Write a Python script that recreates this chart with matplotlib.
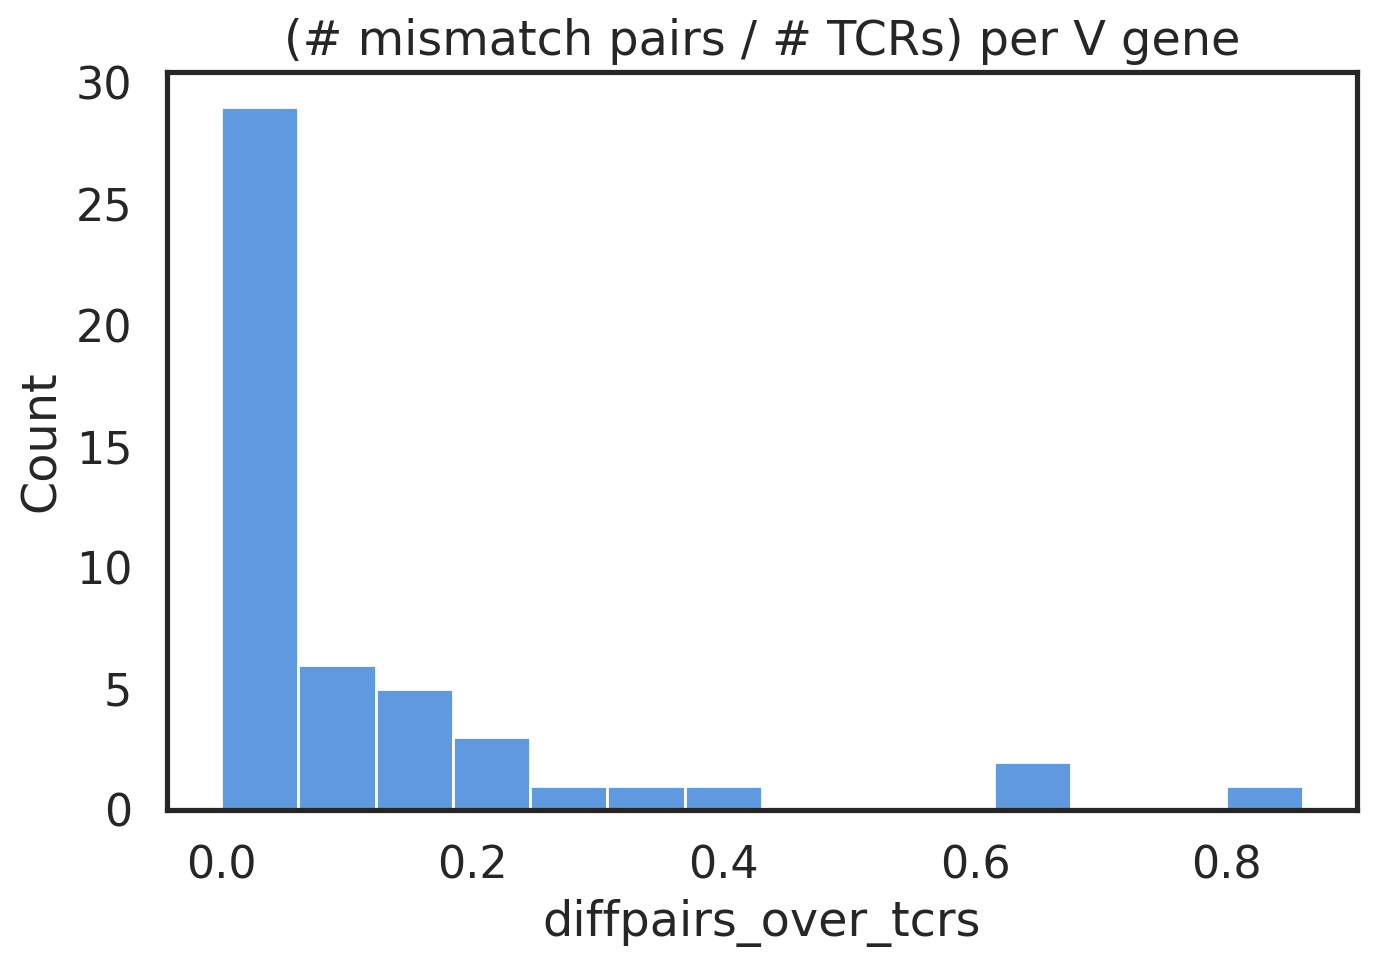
import numpy as np
import matplotlib
matplotlib.use("Agg")
import matplotlib.pyplot as plt
import seaborn as sns

sns.set_theme(style="white", context="talk")

# histogram counts, 14 equal bins over [0, max]
counts = [29, 6, 5, 3, 1, 1, 1, 0, 0, 0, 2, 0, 0, 1]
data_min = 0.0
data_max = 0.861
bar_color = "#5f9ae0"

edges = np.linspace(data_min, data_max, len(counts) + 1)
widths = np.diff(edges)

fig, ax = plt.subplots(figsize=(6.88, 4.83), dpi=200)
fig.subplots_adjust(left=0.1214, right=0.9862, top=0.9255, bottom=0.1615)

ax.bar(edges[:-1], counts, width=widths, align="edge",
       color=bar_color, edgecolor="white", linewidth=1.0)

ax.margins(x=0.05)
ax.set_ylim(0, max(counts) * 1.05)
ax.set_xticks([0.0, 0.2, 0.4, 0.6, 0.8])
ax.set_yticks([0, 5, 10, 15, 20, 25, 30])
ax.tick_params(labelsize=16)
for s in ax.spines.values():
    s.set_color("#262626")
    s.set_linewidth(1.875)

ax.set_xlabel("diffpairs_over_tcrs", fontsize=17.2)
ax.set_ylabel("Count", fontsize=17.2)
ax.set_title("(# mismatch pairs / # TCRs) per V gene", fontsize=17.2)

fig.savefig("out.png", dpi=200)
